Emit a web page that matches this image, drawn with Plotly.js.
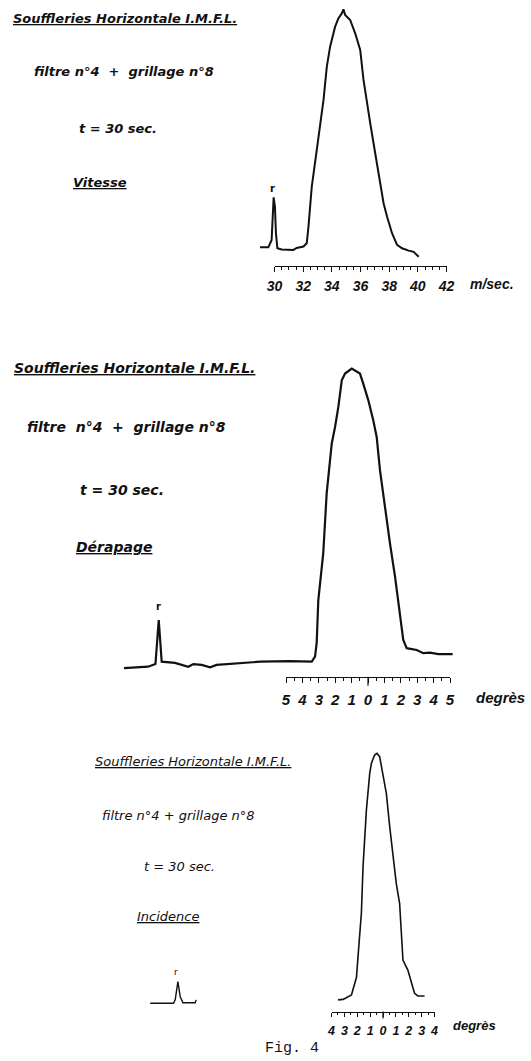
<!DOCTYPE html>
<html><head><meta charset="utf-8">
<script src="https://cdn.plot.ly/plotly-3.0.1.min.js"></script>
<style>html,body{margin:0;padding:0;background:#fff;}#chart{width:531px;height:1061px;}</style>
</head><body><div id="chart"></div>
<script>
// ---------- DATA ----------
// Vitesse (m/sec) — relative amplitude (peak = 100)
const vitesseX = [28.99,29.57,29.80,29.87,29.94,30.03,30.10,30.20,30.50,31.32,31.55,32.02,32.25,32.37,32.60,32.95,33.18,33.42,33.65,33.88,34.23,34.46,34.70,34.81,34.93,35.28,35.63,35.98,36.21,36.45,36.68,36.91,37.15,37.38,37.61,37.85,38.20,38.55,38.90,39.36,39.71,40.06];
const vitesseY = [0.3,0.3,3.4,14.6,21.3,17.4,6.2,-0.1,-0.6,-0.8,0,0.6,2.0,9.0,25.8,41.2,51.0,62.2,76.2,84.6,93.0,96.5,98.6,100.3,97.9,95.8,90.2,83.2,70.6,62.2,52.4,44.0,35.6,25.8,18.8,13.2,6.2,1.3,-0.1,-1.1,-1.6,-3.7];
const vitesseTickVals = [30,32,34,36,38,40,42];
const vitesseTickText = ['30','32','34','36','38','40','42'];

// Dérapage (degrés)
const derapageX = [-14.88,-13.41,-12.96,-12.76,-12.58,-11.77,-10.96,-10.65,-10.14,-9.63,-9.23,-7.60,-6.59,-4.76,-3.43,-3.23,-3.13,-3.03,-2.82,-2.73,-2.52,-2.42,-2.21,-2.01,-1.81,-1.60,-1.40,-0.99,-0.69,-0.49,-0.29,0.02,0.32,0.53,0.73,1.04,1.34,1.65,1.85,2.15,2.36,2.97,3.37,3.78,4.29,4.80,5.16];
const derapageY = [-2.1,-1.6,-0.7,14.3,0.1,-0.3,-1.6,-0.7,-1.0,-1.8,-1.0,-0.4,0.1,0.3,0.1,1.8,6.4,21.1,32.4,37.0,57.4,63.0,74.4,80.0,86.8,95.9,98.2,99.9,98.7,98.2,94.8,89.1,82.3,76.6,65.3,51.7,40.4,29.0,21.1,7.5,4.7,4.1,3.0,3.2,2.7,2.7,2.7];
const derapageTickVals = [-5,-4,-3,-2,-1,0,1,2,3,4,5];
const derapageTickText = ['5','4','3','2','1','0','1','2','3','4','5'];

// Incidence (degrés)
const incidenceX = [-3.49,-3.10,-2.45,-2.06,-1.94,-1.68,-1.55,-1.42,-1.29,-1.03,-0.90,-0.65,-0.47,-0.26,0.00,0.26,0.52,0.77,1.03,1.29,1.42,1.55,1.93,2.20,2.45,2.71,3.23];
const incidenceY = [-1.6,-1.4,0.4,7.7,16.2,34.1,53.3,64.3,76.6,91.8,95.9,99.3,100,98.6,91.8,83.5,69.8,57.4,46.4,38.2,28.6,14.8,10.7,5.2,1.1,0,0];
const incidenceRefX = [-18.08,-16.27,-16.14,-15.93,-15.75,-15.54,-14.59,-14.51];
const incidenceRefY = [-3.0,-3.0,-1.6,5.9,-0.3,-2.8,-2.8,-1.6];
const incidenceTickVals = [-4,-3,-2,-1,0,1,2,3,4];
const incidenceTickText = ['4','3','2','1','0','1','2','3','4'];

// ---------- LAYOUT HELPERS ----------
const W = 531, H = 1061;
const px = v => v / W;
const py = v => 1 - v / H;
const INK = '#111111';
const SANS = 'DejaVu Sans, Liberation Sans, sans-serif';
const TICKSANS = 'Liberation Sans, Arial, sans-serif';

function curveXAxis(a, b, r0, r1, v0, v1, anchor) {
  const s = (r1 - r0) / (v1 - v0);
  return {domain:[px(a), px(b)], range:[v0 + (a - r0) / s, v0 + (b - r0) / s],
          visible:false, fixedrange:true, anchor:anchor, showgrid:false, zeroline:false};
}
function curveYAxis(top, bottom, base, peak, anchor) {
  const s = (base - peak) / 100;
  return {domain:[py(bottom), py(top)], range:[(base - bottom) / s, (base - top) / s],
          visible:false, fixedrange:true, anchor:anchor, showgrid:false, zeroline:false};
}
function rulerAxis(r0, r1, v0, v1, yPos, vals, text, font, standoff, ticklen) {
  return {domain:[px(r0), px(r1)], range:[v0, v1], anchor:'free', position:py(yPos),
          showline:true, linecolor:INK, linewidth:1.2, ticks:'outside', ticklen:ticklen,
          tickwidth:1, tickcolor:INK, tickmode:'array', tickvals:vals, ticktext:text,
          tickfont:font, ticklabelstandoff:standoff, showgrid:false, zeroline:false, fixedrange:true,
          minor:{dtick:0.5, tick0:0, ticks:'outside', ticklen:Math.max(2, ticklen - 2), tickwidth:1, tickcolor:INK, showgrid:false}};
}
function centerTick(xref, yPos, len) {
  return {type:'line', xref:xref, yref:'paper', x0:0, x1:0, y0:py(yPos), y1:py(yPos + len),
          line:{color:INK, width:1.2}};
}
function txt(text, x, y, size, weight, opts) {
  opts = opts || {};
  return {text:text, xref:'paper', yref:'paper', x:px(x), y:py(y),
    xanchor:'center', yanchor:'middle', showarrow:false,
    font:{family:opts.family || SANS, size:size, color:INK, style:opts.style || 'italic', weight:weight,
          lineposition:opts.under ? 'under' : 'none'}};
}

const lineStyle = w => ({color:INK, width:w, shape:'linear'});

const traces = [
  {x:vitesseX, y:vitesseY, xaxis:'x', yaxis:'y', mode:'lines', line:lineStyle(2), hoverinfo:'skip', showlegend:false},
  {x:[30,42], y:[null,null], xaxis:'x2', yaxis:'y', mode:'lines', hoverinfo:'skip', showlegend:false},
  {x:derapageX, y:derapageY, xaxis:'x3', yaxis:'y2', mode:'lines', line:lineStyle(2.2), hoverinfo:'skip', showlegend:false},
  {x:[-5,5], y:[null,null], xaxis:'x4', yaxis:'y2', mode:'lines', hoverinfo:'skip', showlegend:false},
  {x:incidenceX, y:incidenceY, xaxis:'x5', yaxis:'y3', mode:'lines', line:lineStyle(1.6), hoverinfo:'skip', showlegend:false},
  {x:incidenceRefX, y:incidenceRefY, xaxis:'x5', yaxis:'y3', mode:'lines', line:lineStyle(1.4), hoverinfo:'skip', showlegend:false},
  {x:[-4,4], y:[null,null], xaxis:'x6', yaxis:'y3', mode:'lines', hoverinfo:'skip', showlegend:false}
];

const f1 = {family:TICKSANS, size:14, color:INK, style:'italic', weight:700};
const f2 = {family:TICKSANS, size:15, color:INK, style:'italic', weight:700};
const f3 = {family:TICKSANS, size:12.5, color:INK, style:'italic', weight:600};
const NB = '\u00a0';

const layout = {
  width:W, height:H, margin:{l:0, r:0, t:0, b:0},
  paper_bgcolor:'#ffffff', plot_bgcolor:'rgba(0,0,0,0)', showlegend:false,
  xaxis: curveXAxis(240, 460, 274.5, 446.5, 30, 42, 'y'),
  yaxis: curveYAxis(2, 262, 248, 10, 'x'),
  xaxis2: rulerAxis(274.5, 446.5, 30, 42, 266, vitesseTickVals, vitesseTickText, f1, 2, 5),
  xaxis3: curveXAxis(110, 470, 286, 450, -5, 5, 'y2'),
  yaxis2: curveYAxis(355, 674, 662, 368.3, 'x3'),
  xaxis4: rulerAxis(286, 450, -5, 5, 676.7, derapageTickVals, derapageTickText, f2, 4, 5),
  xaxis5: curveXAxis(130, 445, 331.5, 434.5, -4, 4, 'y3'),
  yaxis3: curveYAxis(740, 1008, 996, 753.3, 'x5'),
  xaxis6: rulerAxis(331.5, 434.5, -4, 4, 1011.5, incidenceTickVals, incidenceTickText, f3, 3, 4),
  shapes: [centerTick('x4', 676.7, 9), centerTick('x6', 1011.5, 7)],
  annotations: [
    txt('Souffleries Horizontale I.M.F.L.', 125, 18.5, 13, 700, {under:true}),
    txt('filtre n°4' + NB + NB + '+' + NB + NB + 'grillage n°8', 123.5, 71.7, 13, 700),
    txt('t = 30 sec.', 118, 128.3, 13, 700),
    txt('Vitesse', 100, 182.7, 13, 700, {under:true}),
    txt('r', 272.6, 188, 10, 700, {style:'normal'}),
    txt('m/sec.', 492, 283.5, 14, 700, {family:TICKSANS}),

    txt('Souffleries Horizontale I.M.F.L.', 134.7, 368.3, 14, 700, {under:true}),
    txt('filtre' + NB + NB + 'n°4' + NB + NB + '+' + NB + NB + 'grillage n°8', 126, 426.7, 14, 700),
    txt('t = 30 sec.', 121.7, 490, 14, 700),
    txt('Dérapage', 113.7, 546.7, 14, 700, {under:true}),
    txt('r', 158, 606, 10, 700, {style:'normal'}),
    txt('degrès', 500.5, 697, 15, 700, {family:TICKSANS}),

    txt('Souffleries Horizontale I.M.F.L.', 193.5, 761.7, 13, 400, {under:true}),
    txt('filtre n°4' + NB + '+' + NB + 'grillage n°8', 178, 815, 13, 400),
    txt('t = 30 sec.', 179.5, 866.7, 13, 400),
    txt('Incidence', 167.7, 916.7, 13, 400, {under:true}),
    txt('r', 176, 971.5, 9, 400, {style:'normal'}),
    txt('degrès', 474.5, 1025, 13, 600, {family:TICKSANS}),
    txt('Fig. 4', 292, 1048, 15, 400, {family:'Liberation Mono, DejaVu Sans Mono, monospace', style:'normal'})
  ]
};

Plotly.newPlot('chart', traces, layout, {staticPlot:true, displayModeBar:false});
</script>
</body></html>
